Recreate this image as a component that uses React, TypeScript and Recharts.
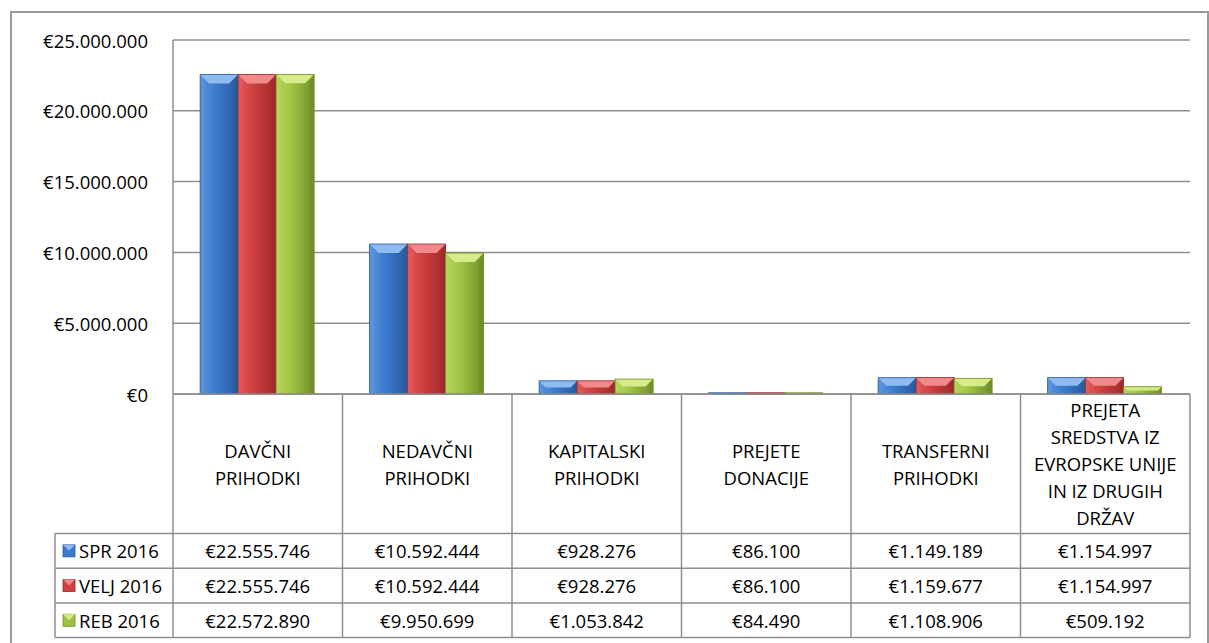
import { Bar, BarChart, CartesianGrid, XAxis, YAxis } from "recharts";

const categories = [
  "DAVČNI PRIHODKI",
  "NEDAVČNI PRIHODKI",
  "KAPITALSKI PRIHODKI",
  "PREJETE DONACIJE",
  "TRANSFERNI PRIHODKI",
  "PREJETA SREDSTVA IZ EVROPSKE UNIJE IN IZ DRUGIH DRŽAV",
];
const categoryLines = [
  ["DAVČNI", "PRIHODKI"],
  ["NEDAVČNI", "PRIHODKI"],
  ["KAPITALSKI", "PRIHODKI"],
  ["PREJETE", "DONACIJE"],
  ["TRANSFERNI", "PRIHODKI"],
  ["PREJETA", "SREDSTVA IZ", "EVROPSKE UNIJE", "IN IZ DRUGIH", "DRŽAV"],
];
const spr2016 = [22555746, 10592444, 928276, 86100, 1149189, 1154997];
const velj2016 = [22555746, 10592444, 928276, 86100, 1159677, 1154997];
const reb2016 = [22572890, 9950699, 1053842, 84490, 1108906, 509192];
const seriesNames = ["SPR 2016", "VELJ 2016", "REB 2016"];
const yTicks = [0, 5000000, 10000000, 15000000, 20000000, 25000000];

const seriesKeys = ["spr", "velj", "reb"];
const seriesValues = [spr2016, velj2016, reb2016];
const palette = [
  { light: "#5e95dc", base: "#3b7bcf", dark: "#2a5a9e", top: "#8fbcf0" },
  { light: "#e25a5a", base: "#d03f3f", dark: "#9e2a2a", top: "#f08a8a" },
  { light: "#b5d65a", base: "#9fc443", dark: "#6f8e2a", top: "#d6ec8a" },
];

const data = categories.map((name, i) => ({
  name,
  spr: spr2016[i],
  velj: velj2016[i],
  reb: reb2016[i],
}));

const W = 1209;
const H = 643;
const PLOT_LEFT = 173;
const PLOT_RIGHT = 1190;
const PLOT_TOP = 40;
const AXIS_Y = 394;
const BAND = (PLOT_RIGHT - PLOT_LEFT) / categories.length;
const HEADER_H = 139.5;
const ROW_H = 34.7;
const LEGEND_LEFT = 55;
const GRID = "#8e8e8e";
const FONT = "'Open Sans', sans-serif";
const FS = 18.5;

const euro = (n: number) =>
  "€" + String(Math.round(n)).replace(/\B(?=(\d{3})+(?!\d))/g, ".");

const makeBar = (s: number) => (props: any) => {
  const { x, y, width, height } = props;
  if (!height || height <= 0) return <g />;
  const c = palette[s];
  const id = `g${s}-${Math.round(x)}`;
  const b = Math.min(9, height / 2, width / 4);
  return (
    <g>
      <defs>
        <linearGradient id={id} x1="0" y1="0" x2="1" y2="0">
          <stop offset="0" stopColor={c.light} />
          <stop offset="0.4" stopColor={c.base} />
          <stop offset="1" stopColor={c.dark} />
        </linearGradient>
      </defs>
      <rect x={x} y={y} width={width} height={height} fill={`url(#${id})`} />
      <polygon
        points={`${x},${y} ${x + width},${y} ${x + width - b},${y + b} ${x + b},${y + b}`}
        fill={c.top}
      />
      <polygon
        points={`${x},${y} ${x + b * 0.5},${y + b} ${x + b * 0.5},${y + height - b * 0.5} ${x},${y + height}`}
        fill={c.light}
        opacity={0.6}
      />
      <polygon
        points={`${x + width},${y} ${x + width - b * 0.5},${y + b} ${x + width - b * 0.5},${y + height - b * 0.5} ${x + width},${y + height}`}
        fill={c.dark}
        opacity={0.7}
      />
      <rect x={x} y={y} width={width} height={height} fill="none" stroke={c.dark} strokeWidth={0.8} />
    </g>
  );
};

const YTick = (props: any) => {
  const { y, payload } = props;
  return (
    <text x={148} y={y} textAnchor="end" dominantBaseline="central" fontFamily={FONT} fontSize={FS} fill="#000">
      {euro(payload.value)}
    </text>
  );
};

const TableTick = (props: any) => {
  const { x, y, payload } = props;
  const i = payload.index ?? categories.indexOf(payload.value);
  const left = x - BAND / 2;
  const right = x + BAND / 2;
  const rowsTop = y + HEADER_H;
  const bottom = rowsTop + ROW_H * 3;
  const lines = categoryLines[i];
  const lh = 27;
  const firstY = y + HEADER_H / 2 - ((lines.length - 1) * lh) / 2;
  return (
    <g>
      <line x1={right} y1={y} x2={right} y2={bottom} stroke={GRID} strokeWidth={1.5} />
      {[0, 1, 2, 3].map((k) => (
        <line key={k} x1={left} y1={rowsTop + k * ROW_H} x2={right} y2={rowsTop + k * ROW_H} stroke={GRID} strokeWidth={1.5} />
      ))}
      {lines.map((t, k) => (
        <text key={k} x={x} y={firstY + k * lh} textAnchor="middle" dominantBaseline="central" fontFamily={FONT} fontSize={FS} fill="#000">
          {t}
        </text>
      ))}
      {seriesValues.map((vals, k) => (
        <text key={k} x={x} y={rowsTop + (k + 0.5) * ROW_H} textAnchor="middle" dominantBaseline="central" fontFamily={FONT} fontSize={FS} fill="#000">
          {euro(vals[i])}
        </text>
      ))}
      {i === 0 && (
        <g>
          <line x1={left} y1={y} x2={left} y2={bottom} stroke={GRID} strokeWidth={1.5} />
          <line x1={LEGEND_LEFT} y1={rowsTop} x2={LEGEND_LEFT} y2={bottom} stroke={GRID} strokeWidth={1.5} />
          {[0, 1, 2, 3].map((k) => (
            <line key={k} x1={LEGEND_LEFT} y1={rowsTop + k * ROW_H} x2={left} y2={rowsTop + k * ROW_H} stroke={GRID} strokeWidth={1.5} />
          ))}
          {seriesNames.map((n, k) => {
            const cy = rowsTop + (k + 0.5) * ROW_H;
            const c = palette[k];
            return (
              <g key={n}>
                <rect x={63} y={cy - 6} width={12} height={12} fill={c.base} stroke={c.dark} strokeWidth={0.8} />
                <polygon points={`63,${cy - 6} 75,${cy - 6} 69,${cy}`} fill={c.top} />
                <text x={79} y={cy} dominantBaseline="central" fontFamily={FONT} fontSize={FS} fill="#000">
                  {n}
                </text>
              </g>
            );
          })}
        </g>
      )}
    </g>
  );
};

export default function App() {
  return (
    <div style={{ position: "absolute", left: 0, top: 0, width: W, height: H, overflow: "hidden", background: "#fff" }}>
      <div
        style={{
          position: "absolute",
          left: 10,
          top: 11,
          width: W - 10,
          height: H + 20,
          border: `2px solid #999`,
          boxSizing: "border-box",
        }}
      />
      <div style={{ position: "absolute", left: 0, top: 0 }}>
        <BarChart
          width={W}
          height={H}
          data={data}
          margin={{ top: PLOT_TOP, right: W - PLOT_RIGHT, left: 0, bottom: 0 }}
          barCategoryGap="16%"
          barGap={0}
        >
          <CartesianGrid horizontal vertical={false} stroke={GRID} strokeWidth={1.5} />
          <XAxis
            dataKey="name"
            interval={0}
            height={H - AXIS_Y}
            tickLine={false}
            tickSize={0}
            tickMargin={0}
            axisLine={{ stroke: GRID, strokeWidth: 1.5 }}
            tick={<TableTick />}
          />
          <YAxis
            width={PLOT_LEFT}
            domain={[0, 25000000]}
            ticks={yTicks}
            tickLine={false}
            axisLine={{ stroke: GRID, strokeWidth: 1.5 }}
            tick={<YTick />}
          />
          {seriesKeys.map((k, s) => (
            <Bar key={k} dataKey={k} name={seriesNames[s]} shape={makeBar(s)} isAnimationActive={false} />
          ))}
        </BarChart>
      </div>
    </div>
  );
}
